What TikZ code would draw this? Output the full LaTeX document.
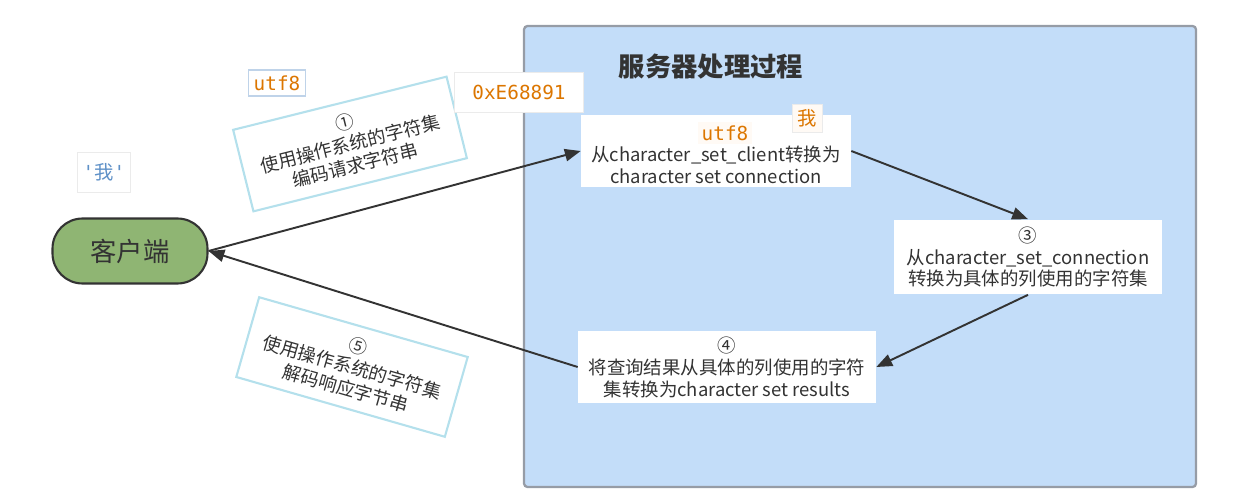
\documentclass[tikz,border=0pt]{standalone}
\usepackage{fontspec}
\setmainfont{Noto Sans CJK SC}
\setmonofont{DejaVu Sans Mono}
\newfontfamily\cjk{Noto Sans CJK SC}
\usetikzlibrary{arrows.meta,positioning}
\definecolor{serverblue}{RGB}{195,221,249}
\definecolor{servergray}{RGB}{150,156,166}
\definecolor{clientgreen}{RGB}{143,181,115}
\definecolor{notecyan}{RGB}{180,224,236}
\definecolor{codeorange}{RGB}{220,118,0}
\definecolor{codeblue}{RGB}{95,145,200}
\definecolor{textgray}{RGB}{51,51,51}

\begin{document}
\begin{tikzpicture}[x=0.02cm, y=-0.02cm,
    every node/.style={text=textgray, font=\fontsize{10.5}{12.5}\selectfont, align=center, inner sep=0pt},
    stepbox/.style={fill=white, minimum height=1.46cm},
    notebox/.style={fill=white, draw=notecyan, line width=1.2pt, minimum width=4.4cm, minimum height=1.68cm},
    codebox/.style={fill=white, draw=black!8, text=codeorange, font=\ttfamily\fontsize{11}{13}\selectfont, inner sep=3pt},
    flow/.style={-{Triangle[length=9pt,width=7pt]}, line width=1.1pt, draw=textgray}]
      \useasboundingbox (0,0) rectangle (1233,503);

      % server
      \draw[fill=serverblue, draw=servergray, line width=1.3pt, rounded corners=2pt] (524,26) rectangle (1196,487);
      \node (title) at (711,67) {\fontsize{15}{17}\selectfont\bfseries 服务器处理过程};

      % client
      \node[fill=clientgreen, draw=textgray, line width=1.2pt, rounded corners=0.6cm, minimum width=3.1cm, minimum height=1.3cm, font=\fontsize{15}{17}\selectfont] (client) at (130,251) {客户端};

      % steps
      \node[stepbox, minimum width=5.4cm] (conn) at (716,151) {\strut\\[2pt]从character\_set\_client转换为\\character set connection};
      \node[stepbox, minimum width=5.38cm, minimum height=1.5cm] (column) at (1028,257) {③\\从character\_set\_connection\\转换为具体的列使用的字符集};
      \node[stepbox, minimum width=5.96cm, minimum height=1.44cm] (results) at (727,367) {④\\将查询结果从具体的列使用的字符\\集转换为character set results};

      \node[notebox, rotate=14] (encode) at (350,144) {①\\使用操作系统的字符集\\编码请求字符串};
      \node[notebox, rotate=-16, minimum width=4.34cm, minimum height=1.66cm] (decode) at (352,367) {⑤\\使用操作系统的字符集\\解码响应字节串};

      % arrows
      \draw[flow] (client.east) -- (conn.west);
      \draw[flow] (conn.east) -- (column.north);
      \draw[flow] (column.south) -- (results.east);
      \draw[flow] (results.west) -- (client.east);

      % labels
      \node[codebox, text=codeblue, minimum width=0.98cm, minimum height=0.8cm] (charlit) at (104,172) {'{\cjk 我}'};
      \node[codebox, draw=codeblue!40, line width=1pt] (osutf) at (277,83) {utf8};
      \node[codebox, minimum width=2.58cm, minimum height=0.8cm] (bytes) at (519,92) {0xE68891};
      \node[codebox, fill=white!96!orange, draw=none, inner sep=2pt] (connutf) at (725,133) {utf8};
      \node[codebox, fill=white!96!orange, font=\fontsize{11}{13}\selectfont, inner sep=3pt] (connchar) at (807,118) {我};
\end{tikzpicture}
\end{document}
